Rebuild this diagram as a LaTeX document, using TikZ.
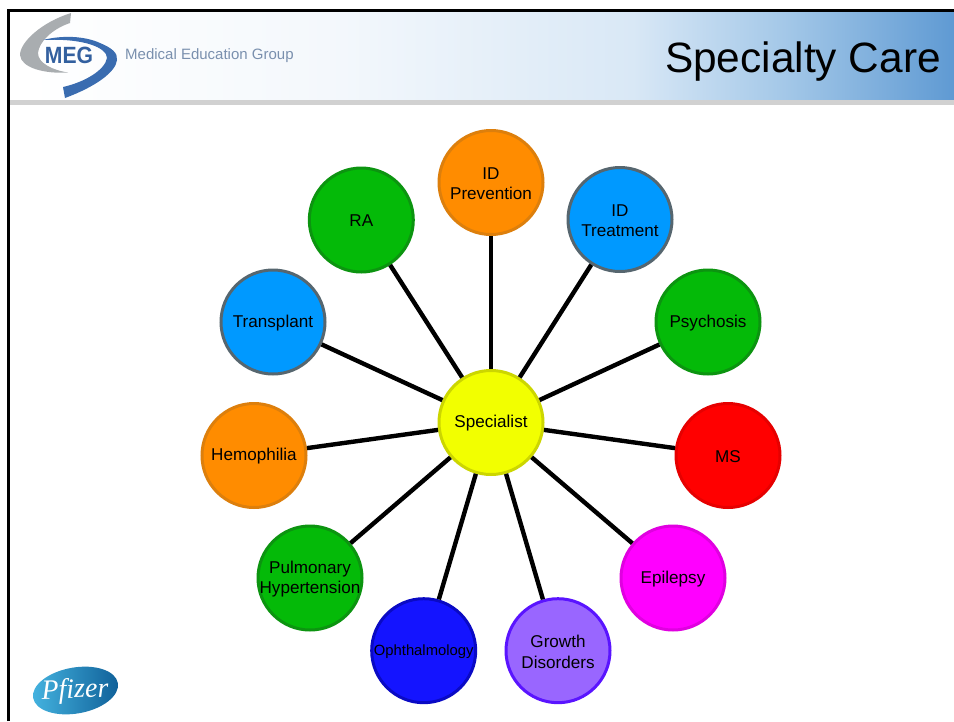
\documentclass[tikz,border=0pt]{standalone}
\usepackage{fontspec}
\setmainfont{Liberation Sans}
\newfontfamily\pfzfont{Liberation Serif}
\usetikzlibrary{shapes.geometric,backgrounds}
\definecolor{hdZ}{HTML}{F4F8FC}
\definecolor{hdA}{HTML}{D9E8F6}
\definecolor{hdB}{HTML}{A4C8E8}
\definecolor{hdC}{HTML}{5F9AD3}
\pgfdeclarehorizontalshading{headband}{100bp}{
 color(0bp)=(white);
 color(26bp)=(white);
 color(42bp)=(hdZ);
 color(58bp)=(hdA);
 color(66bp)=(hdB);
 color(75bp)=(hdC);
 color(100bp)=(hdC)}
\definecolor{cOrange}{HTML}{FF8C00}\definecolor{bOrange}{HTML}{DD7F0C}
\definecolor{cBlue}{HTML}{0099FF}\definecolor{bBlue}{HTML}{56666F}
\definecolor{cGreen}{HTML}{04BA08}\definecolor{bGreen}{HTML}{0C9410}
\definecolor{cRed}{HTML}{FF0000}\definecolor{bRed}{HTML}{E60000}
\definecolor{cMag}{HTML}{FF00FF}\definecolor{bMag}{HTML}{E000E0}
\definecolor{cPurp}{HTML}{9966FF}\definecolor{bPurp}{HTML}{5A14FF}
\definecolor{cInd}{HTML}{1414FF}\definecolor{bInd}{HTML}{0A0AC4}
\definecolor{cYel}{HTML}{F2FF00}\definecolor{bYel}{HTML}{CCD600}
\definecolor{megblue}{HTML}{3A6CB0}
\definecolor{megdark}{HTML}{33609F}
\definecolor{meggray}{HTML}{A9ADB0}
\definecolor{megtext}{HTML}{7A90AE}
\definecolor{pfzL}{HTML}{45B4E0}
\definecolor{pfzR}{HTML}{0F5F98}
\newcommand{\dn}[1]{\raisebox{-1pt}[\height][\depth]{#1}}
\newcommand{\wide}[1]{\makebox[70pt][c]{\dn{#1}}}
\tikzset{
 x=1pt,y=-1pt,
 hub/.style={circle,draw,line width=3pt,minimum size=104pt,inner sep=0pt,align=center,font=\fontsize{17.1}{20.5}\selectfont,text=black},
 ora/.style={hub,fill=cOrange,draw=bOrange},
 blu/.style={hub,fill=cBlue,draw=bBlue},
 gre/.style={hub,fill=cGreen,draw=bGreen},
 spoke/.style={line width=4.4pt,black}
}
\begin{document}
\begin{tikzpicture}
\useasboundingbox (0,0) rectangle (954,721);
\fill[white] (0,0) rectangle (954,721);
% header
\shade[shading=headband] (9,12) rectangle (954,100);
\fill[black!18] (9,100) rectangle (954,105);
\draw[line width=3pt,black] (8.5,721) -- (8.5,10.5) -- (954,10.5);
% MEG logo
\fill[meggray] (71,13) .. controls (42,22) and (20,42) .. (20,55) .. controls (21,68) and (45,74) .. (68,72.5)
 .. controls (52,70) and (38,63) .. (38,53) .. controls (39,42) and (52,29) .. (70,23) -- cycle;
\fill[megblue] (43,40) .. controls (62,35) and (85,36) .. (100,43) .. controls (112,48) and (118,53) .. (117,60)
 .. controls (116,72) and (95,87) .. (65,98) -- (63,87) .. controls (85,82) and (105,70) .. (107,58)
 .. controls (107,48) and (85,38) .. (43,40) -- cycle;
\node[font=\bfseries\fontsize{23.5}{24}\selectfont,text=megdark,anchor=center,inner sep=0pt,xscale=0.9] (meg) at (69,55.5) {MEG};
\node[font=\fontsize{15}{16}\selectfont,text=megtext,anchor=west,inner sep=0pt] (megname) at (125,56) {Medical Education Group};
% title
\node[font=\fontsize{42.4}{48}\selectfont,anchor=east,inner sep=0pt,text=black] (title) at (941,62) {Specialty Care};
% Pfizer logo
\shade[left color=pfzL,right color=pfzR,rotate around={10:(75.5,690.5)}] (75.5,690.5) ellipse [x radius=43,y radius=23];
\node[font=\pfzfont\itshape\fontsize{28}{28}\selectfont,text=white,anchor=center,inner sep=0pt,rotate=2] (pfizer) at (75,691) {Pfizer};
% nodes
\node[hub,fill=cYel,draw=bYel] (sp) at (491,422.5) {\dn{Specialist}};
\node[ora] (idp) at (491,182.5) {\dn{ID}\\\dn{Prevention}};
\node[blu] (idt) at (620,219.5) {\dn{ID}\\\dn{Treatment}};
\node[gre] (psy) at (708,322) {\dn{Psychosis}};
\node[hub,fill=cRed,draw=bRed] (ms) at (728,455.5) {\dn{MS}};
\node[hub,fill=cMag,draw=bMag] (epi) at (673,578) {\dn{Epilepsy}};
\node[hub,fill=cPurp,draw=bPurp] (gro) at (558,650.7) {\dn{Growth}\\\dn{Disorders}};
\node[hub,fill=cInd,draw=bInd,font=\fontsize{14.8}{17}\selectfont] (oph) at (423.7,650.7) {\wide{Ophthalmology}};
\node[gre] (pul) at (310,578) {\wide{Pulmonary}\\\wide{Hypertension}};
\node[ora] (hem) at (254,455.5) {\dn{Hemophilia}};
\node[blu] (tra) at (273,322) {\dn{Transplant}};
\node[gre] (ra) at (361.3,220) {\dn{RA}};
\foreach \n in {idp,idt,psy,ms,epi,gro,oph,pul,hem,tra,ra}{\draw[spoke] (sp) -- (\n);}
\end{tikzpicture}
\end{document}
